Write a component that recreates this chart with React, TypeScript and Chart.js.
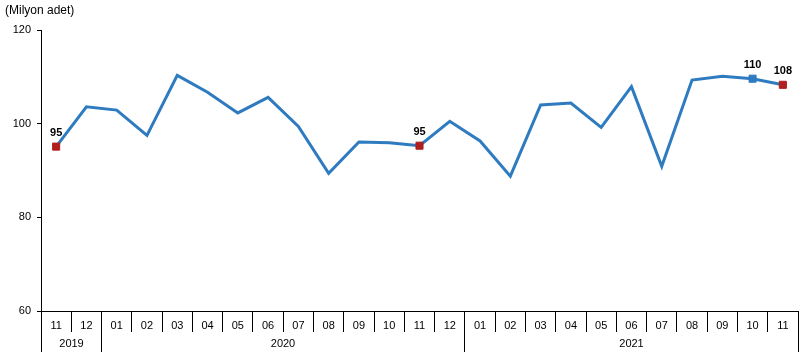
import React, { useEffect, useRef } from "react";
import { Chart, registerables } from "chart.js";

Chart.register(...registerables);

const months = [
  "11", "12",
  "01", "02", "03", "04", "05", "06", "07", "08", "09", "10", "11", "12",
  "01", "02", "03", "04", "05", "06", "07", "08", "09", "10", "11",
];
const yearLabels = ["2019", "2020", "2021"];
const yearMonthCounts = [2, 12, 11];

const values = [
  95.1, 103.6,
  102.9, 97.5, 110.3, 106.7, 102.3, 105.6, 99.4, 89.4, 96.1, 95.9, 95.3, 100.5,
  96.3, 88.8, 104.0, 104.4, 99.2, 107.9, 90.9, 109.3, 110.1, 109.6, 108.3,
];

const markedIndices = [0, 12, 23, 24];
const markedColors = ["#B01E1E", "#B01E1E", "#2E7BC0", "#B01E1E"];

const yTicks = [60, 80, 100, 120];
const unitTitle = "(Milyon adet)";

const FONT = "'Liberation Sans', Arial, sans-serif";
const LINE_COLOR = "#2E7BC0";

const align = (p: number) => Math.round(p - 0.5) + 0.5;

export default function App() {
  const ref = useRef<HTMLCanvasElement | null>(null);

  useEffect(() => {
    document.body.style.margin = "0";
    const canvas = ref.current;
    if (!canvas) return;

    const pointRadius = values.map((_, i) => (markedIndices.includes(i) ? 5 : 0));
    const pointColors = values.map((_, i) => {
      const k = markedIndices.indexOf(i);
      return k >= 0 ? markedColors[k] : LINE_COLOR;
    });

    const extras = {
      id: "extras",
      afterDraw(chart: any) {
        const ctx = chart.ctx;
        const x = chart.scales.x;
        const area = chart.chartArea;
        ctx.save();
        // unit title
        ctx.fillStyle = "#000";
        ctx.font = `12px ${FONT}`;
        ctx.textAlign = "left";
        ctx.textBaseline = "middle";
        ctx.fillText(unitTitle, 5, 11);

        // year row
        const half = (x.getPixelForValue(1) - x.getPixelForValue(0)) / 2;
        ctx.strokeStyle = "#000";
        ctx.lineWidth = 1;
        ctx.font = `11px ${FONT}`;
        ctx.textAlign = "center";
        let start = 0;
        yearLabels.forEach((lab, gi) => {
          const end = start + yearMonthCounts[gi] - 1;
          const x0 = align(x.getPixelForValue(start) - half);
          const x1 = align(x.getPixelForValue(end) + half);
          ctx.beginPath();
          ctx.moveTo(x0, area.bottom);
          ctx.lineTo(x0, 352);
          ctx.moveTo(x1, area.bottom);
          ctx.lineTo(x1, 352);
          ctx.stroke();
          ctx.fillText(lab, (x0 + x1) / 2, 344);
          start = end + 1;
        });

        // data labels
        const meta = chart.getDatasetMeta(0);
        ctx.font = `bold 11px ${FONT}`;
        ctx.textBaseline = "middle";
        markedIndices.forEach((i) => {
          const p = meta.data[i];
          ctx.fillText(values[i].toFixed(0), p.x, p.y - 14);
        });
        ctx.restore();
      },
    };

    const chart = new Chart(canvas, {
      type: "line",
      data: {
        labels: months,
        datasets: [
          {
            data: values,
            borderColor: LINE_COLOR,
            borderWidth: 3,
            tension: 0,
            pointStyle: "rect",
            pointRadius,
            pointHoverRadius: pointRadius,
            pointBackgroundColor: pointColors,
            pointBorderColor: pointColors,
            pointBorderWidth: 1,
          },
        ],
      },
      options: {
        responsive: false,
        animation: false,
        devicePixelRatio: 1,
        layout: { padding: { top: 30, right: 5, left: 0, bottom: 0 } },
        plugins: {
          legend: { display: false },
          tooltip: { enabled: false },
          title: { display: false },
        },
        scales: {
          x: {
            type: "category",
            offset: true,
            afterFit: (s: any) => {
              s.height = 46;
            },
            grid: {
              offset: true,
              drawOnChartArea: false,
              drawTicks: true,
              tickLength: 21,
              color: "#000",
              lineWidth: 1,
            },
            border: { display: true, color: "#000", width: 1 },
            ticks: {
              autoSkip: false,
              maxRotation: 0,
              minRotation: 0,
              padding: -13,
              color: "#000",
              font: { family: FONT, size: 11 },
            },
          },
          y: {
            min: 60,
            max: 120,
            afterFit: (s: any) => {
              s.width = 41;
            },
            afterBuildTicks: (s: any) => {
              s.ticks = yTicks.map((v) => ({ value: v }));
            },
            grid: {
              drawOnChartArea: false,
              drawTicks: true,
              tickLength: 4,
              color: "#000",
            },
            border: { display: true, color: "#000", width: 1 },
            ticks: {
              padding: 6,
              color: "#000",
              font: { family: FONT, size: 11 },
            },
          },
        },
      },
      plugins: [extras],
    });

    return () => chart.destroy();
  }, []);

  return (
    <div style={{ width: 804, height: 357 }}>
      <canvas ref={ref} width={804} height={357} />
    </div>
  );
}
